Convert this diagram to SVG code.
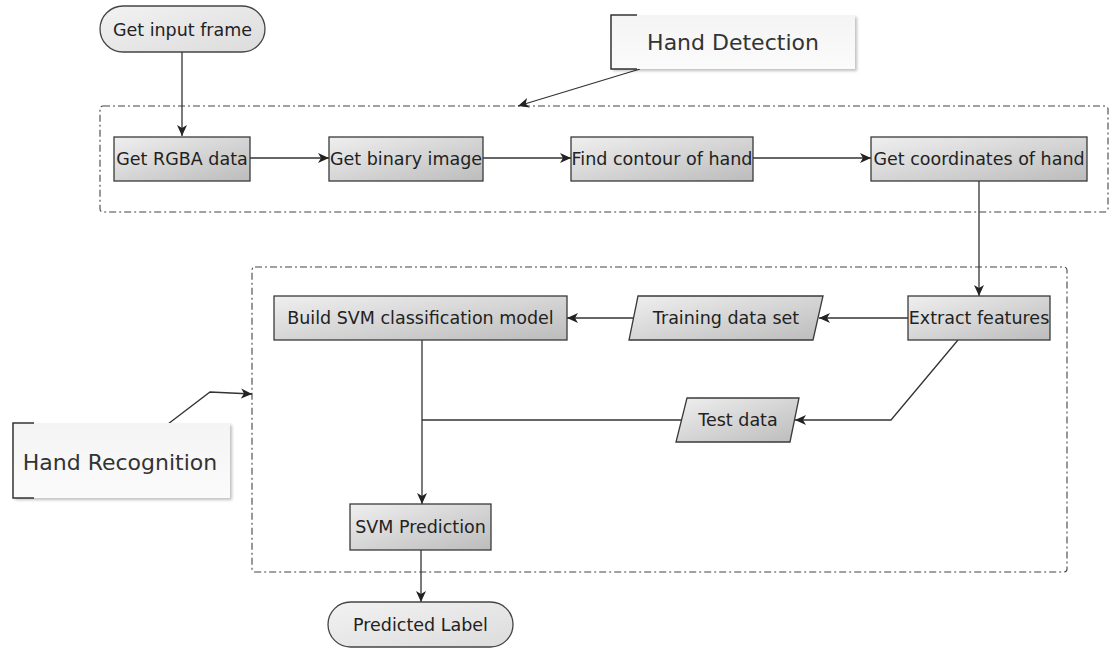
<svg xmlns="http://www.w3.org/2000/svg" width="1110" height="648" viewBox="0 0 1110 648">
<defs>
<linearGradient id="gBox" x1="0" y1="0" x2="1" y2="1">
<stop offset="0" stop-color="#efefef"/>
<stop offset="1" stop-color="#bcbcbc"/>
</linearGradient>
<linearGradient id="gPill" x1="0" y1="0" x2="1" y2="1">
<stop offset="0" stop-color="#f2f2f2"/>
<stop offset="1" stop-color="#dcdcdc"/>
</linearGradient>
<linearGradient id="gNote" x1="0" y1="0" x2="0" y2="1">
<stop offset="0" stop-color="#f4f4f4"/>
<stop offset="1" stop-color="#fbfbfb"/>
</linearGradient>
<filter id="shadow" x="-10%" y="-10%" width="130%" height="140%">
<feGaussianBlur in="SourceAlpha" stdDeviation="1.5"/>
<feOffset dx="2" dy="2" result="b"/>
<feComponentTransfer><feFuncA type="linear" slope="0.25"/></feComponentTransfer>
<feMerge><feMergeNode/><feMergeNode in="SourceGraphic"/></feMerge>
</filter>
<marker id="arr" markerWidth="12" markerHeight="10" refX="11" refY="5" orient="auto" markerUnits="userSpaceOnUse">
<path d="M0,0 L11,5 L0,10 L3,5 Z" fill="#222"/>
</marker>
</defs>
<style>
.box{fill:url(#gBox);stroke:#3a3a3a;stroke-width:1.3}
.pill{fill:url(#gPill);stroke:#444;stroke-width:1.3}
.lbl{font-family:"DejaVu Sans",sans-serif;font-size:17.5px;fill:#222;text-anchor:middle}
.big{font-family:"DejaVu Sans",sans-serif;font-size:22px;fill:#333;text-anchor:middle}
.frame{fill:none;stroke:#444;stroke-width:1.1;stroke-dasharray:7 3 2 3}
.con{fill:none;stroke:#333;stroke-width:1.3}
.note{fill:url(#gNote);filter:url(#shadow)}
.brk{fill:none;stroke:#333;stroke-width:1.5}
</style>
<rect width="1110" height="648" fill="#ffffff"/>

<g id="frames">
<rect id="frame-detection" class="frame" x="100" y="106" width="1008" height="106" rx="3"/>
<rect id="frame-recognition" class="frame" x="252" y="267" width="815" height="305" rx="3"/>
</g>

<g id="connectors">
<line class="con" x1="182" y1="52" x2="182" y2="136" marker-end="url(#arr)"/>
<line class="con" x1="250" y1="158" x2="329" y2="158" marker-end="url(#arr)"/>
<line class="con" x1="483" y1="158" x2="571" y2="158" marker-end="url(#arr)"/>
<line class="con" x1="753" y1="158" x2="871" y2="158" marker-end="url(#arr)"/>
<line class="con" x1="979" y1="181" x2="979" y2="296" marker-end="url(#arr)"/>
<line class="con" x1="908" y1="318" x2="819" y2="318" marker-end="url(#arr)"/>
<line class="con" x1="633" y1="318" x2="567" y2="318" marker-end="url(#arr)"/>
<polyline class="con" points="958,340 891,420 795,420" marker-end="url(#arr)"/>
<line class="con" x1="681" y1="420" x2="422" y2="420"/>
<line class="con" x1="422" y1="340" x2="422" y2="504" marker-end="url(#arr)"/>
<line class="con" x1="421" y1="550" x2="421" y2="602" marker-end="url(#arr)"/>
<line class="con" x1="640" y1="69" x2="518" y2="106" marker-end="url(#arr)"/>
<polyline class="con" points="168,424 210,392 252,394" marker-end="url(#arr)"/>
</g>

<g id="n-input">
<rect class="pill" x="100" y="6" width="165" height="46" rx="23"/>
<text class="lbl" x="182.5" y="35.5">Get input frame</text>
</g>
<g id="n-rgba">
<rect class="box" x="114" y="137" width="136" height="44"/>
<text class="lbl" x="182" y="165">Get RGBA data</text>
</g>
<g id="n-binary">
<rect class="box" x="329" y="137" width="154" height="44"/>
<text class="lbl" x="406" y="165">Get binary image</text>
</g>
<g id="n-contour">
<rect class="box" x="571" y="137" width="182" height="44"/>
<text class="lbl" x="662" y="165" textLength="181" lengthAdjust="spacingAndGlyphs">Find contour of hand</text>
</g>
<g id="n-coords">
<rect class="box" x="871" y="137" width="216" height="44"/>
<text class="lbl" x="979" y="165">Get coordinates of hand</text>
</g>
<g id="n-extract">
<rect class="box" x="908" y="296" width="142" height="44"/>
<text class="lbl" x="979" y="324">Extract features</text>
</g>
<g id="n-training">
<polygon class="box" points="638,296 823,296 813,340 629,340"/>
<text class="lbl" x="726" y="324">Training data set</text>
</g>
<g id="n-build">
<rect class="box" x="274" y="296" width="293" height="44"/>
<text class="lbl" x="420.5" y="324">Build SVM classification model</text>
</g>
<g id="n-test">
<polygon class="box" points="687,398 799,398 790,442 676,442"/>
<text class="lbl" x="738" y="426">Test data</text>
</g>
<g id="n-predict">
<rect class="box" x="350" y="504" width="141" height="46"/>
<text class="lbl" x="420.5" y="533">SVM Prediction</text>
</g>
<g id="n-label">
<rect class="pill" x="328" y="602" width="185" height="45" rx="22.5"/>
<text class="lbl" x="420.5" y="631">Predicted Label</text>
</g>

<g id="n-hand-detection">
<rect class="note" x="611" y="15" width="244" height="54"/>
<polyline class="brk" points="637,15 611,15 611,69 637,69"/>
<text class="big" x="733" y="50">Hand Detection</text>
</g>
<g id="n-hand-recognition">
<rect class="note" x="13" y="423" width="217" height="75"/>
<polyline class="brk" points="34,423 13,423 13,498 34,498"/>
<text class="big" x="120" y="470">Hand Recognition</text>
</g>
</svg>
